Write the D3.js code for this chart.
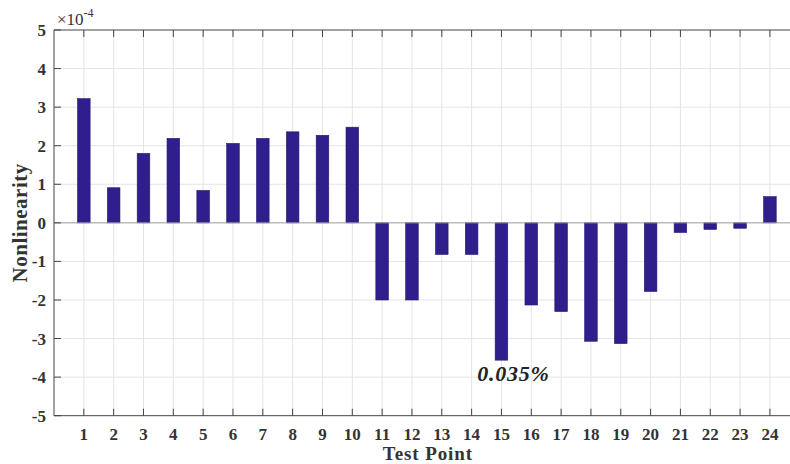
<!DOCTYPE html>
<html>
<head>
<meta charset="utf-8">
<script src="https://cdn.jsdelivr.net/npm/d3@7"></script>
<style>
  html, body { margin: 0; padding: 0; background: #fff; }
  svg { display: block; }
  text { font-family: "Palatino Linotype", "Book Antiqua", "Liberation Serif", serif; }
</style>
</head>
<body>
<svg id="chart" width="790" height="464"></svg>
<script>
const testPoints = d3.range(1, 25);
const nonlinearity = [3.22, 0.91, 1.80, 2.19, 0.84, 2.06, 2.19, 2.36, 2.27, 2.48,
                      -2.00, -2.00, -0.82, -0.82, -3.56, -2.13, -2.30, -3.07, -3.13, -1.78,
                      -0.25, -0.17, -0.14, 0.68];
const yTicks = [-5, -4, -3, -2, -1, 0, 1, 2, 3, 4, 5];
const annotation = { point: 15, text: "0.035%" };

(function () {
const svg = d3.select("#chart");
const pLeft = 54, pTop = 30, pBottom = 415.7, step = 29.83;
const x = d3.scaleLinear().domain([0, 25]).range([pLeft, pLeft + 25 * step]);
const y = d3.scaleLinear().domain([-5, 5]).range([pBottom, pTop]);
const barW = 12.6;
const axisColor = "#444";

// grid
svg.append("g").selectAll("line").data(testPoints).join("line")
  .attr("x1", d => x(d)).attr("x2", d => x(d)).attr("y1", pTop).attr("y2", pBottom)
  .attr("stroke", "#e4e4e4").attr("stroke-width", 1);
svg.append("g").selectAll("line").data(yTicks.filter(d => d !== 0 && d !== 5 && d !== -5)).join("line")
  .attr("x1", pLeft).attr("x2", 790).attr("y1", d => y(d)).attr("y2", d => y(d))
  .attr("stroke", "#e4e4e4").attr("stroke-width", 1);

// bars
svg.append("g").selectAll("rect").data(nonlinearity).join("rect")
  .attr("x", (d, i) => x(testPoints[i]) - barW / 2)
  .attr("width", barW)
  .attr("y", d => y(Math.max(0, d)))
  .attr("height", d => Math.abs(y(d) - y(0)))
  .attr("fill", "#2e1f8c")
  .attr("stroke", "#241870").attr("stroke-width", 0.6);

// zero baseline
svg.append("line").attr("x1", pLeft).attr("x2", 790).attr("y1", y(0)).attr("y2", y(0))
  .attr("stroke", "#999").attr("stroke-width", 1);

// axes lines (box: left, top, bottom)
const axisG = svg.append("g");
axisG.append("line").attr("x1", pLeft).attr("x2", 790).attr("y1", pTop).attr("y2", pTop).attr("stroke", axisColor);
axisG.append("line").attr("x1", pLeft).attr("x2", 790).attr("y1", pBottom).attr("y2", pBottom).attr("stroke", axisColor);
axisG.append("line").attr("x1", pLeft).attr("x2", pLeft).attr("y1", pTop).attr("y2", pBottom).attr("stroke", axisColor);

// ticks
const tl = 7;
axisG.append("g").selectAll("line").data(testPoints).join("line")
  .attr("x1", d => x(d)).attr("x2", d => x(d)).attr("y1", pBottom).attr("y2", pBottom - tl).attr("stroke", axisColor);
axisG.append("g").selectAll("line").data(testPoints).join("line")
  .attr("x1", d => x(d)).attr("x2", d => x(d)).attr("y1", pTop).attr("y2", pTop + tl).attr("stroke", axisColor);
axisG.append("g").selectAll("line").data(yTicks).join("line")
  .attr("x1", pLeft).attr("x2", pLeft + tl).attr("y1", d => y(d)).attr("y2", d => y(d)).attr("stroke", axisColor);

// tick labels
svg.append("g").selectAll("text").data(testPoints).join("text")
  .attr("x", d => x(d)).attr("y", pBottom + 24)
  .attr("text-anchor", "middle").attr("font-size", 17).attr("font-weight", "bold").attr("fill", "#333")
  .text(d => d);
svg.append("g").selectAll("text").data(yTicks).join("text")
  .attr("x", pLeft - 8).attr("y", d => y(d) + 6)
  .attr("text-anchor", "end").attr("font-size", 17).attr("font-weight", "bold").attr("fill", "#333")
  .text(d => d);

// exponent
const ex = svg.append("text").attr("x", pLeft + 3).attr("y", 25).attr("font-size", 17).attr("fill", "#333");
ex.append("tspan").text("\u00d710");
ex.append("tspan").attr("dy", -8).attr("font-size", 12).text("-4");

// axis titles
svg.append("text").attr("x", x(12.5) + 1).attr("y", 460)
  .attr("text-anchor", "middle").attr("font-size", 19).attr("font-weight", "bold").attr("fill", "#333")
  .attr("letter-spacing", 0.9)
  .text("Test Point");
svg.append("text").attr("transform", `translate(27,${y(0)}) rotate(-90)`)
  .attr("text-anchor", "middle").attr("font-size", 21).attr("font-weight", "bold").attr("fill", "#333")
  .attr("letter-spacing", 0.5)
  .text("Nonlinearity");

// annotation
svg.append("text").attr("x", x(annotation.point) + 12).attr("y", y(nonlinearity[annotation.point - 1]) + 21)
  .attr("text-anchor", "middle").attr("font-size", 22).attr("font-weight", "bold").attr("font-style", "italic")
  .attr("letter-spacing", 0.8)
  .attr("fill", "#222").text(annotation.text);
})();
</script>
</body>
</html>
